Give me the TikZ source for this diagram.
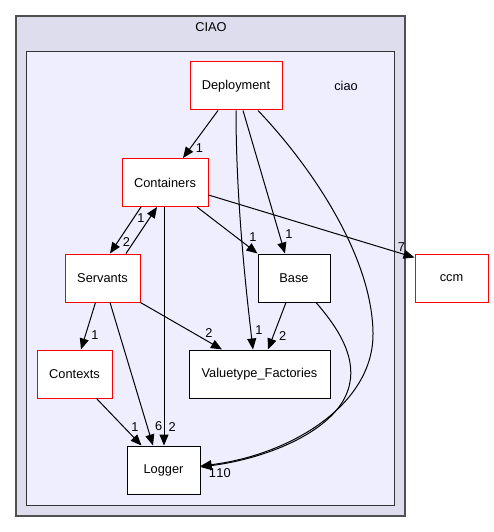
\documentclass[tikz,border=0pt]{standalone}
\usepackage{fontspec}
\setmainfont{Liberation Sans}
\usetikzlibrary{arrows.meta,calc}
\definecolor{outerfill}{HTML}{DDDDEE}
\definecolor{innerfill}{HTML}{EEEEFF}
\definecolor{outerline}{HTML}{505050}
\definecolor{innerline}{HTML}{333333}
\tikzset{
  dirbox/.style={draw=red, fill=white, line width=1pt, inner sep=0pt,
    minimum height=48pt, font=\fontsize{12.8}{14}\selectfont},
  leafbox/.style={dirbox, draw=black},
  edge/.style={draw=black, line width=1pt, -{Triangle[length=11pt,width=9pt]}},
  elabel/.style={font=\fontsize{12.8}{14}\selectfont, inner sep=0pt},
}
\begin{document}
\begin{tikzpicture}[x=1pt,y=-1pt]
\useasboundingbox (0,0) rectangle (493,532);
% clusters
\draw[fill=outerfill, draw=outerline, line width=1.4pt] (16,16) rectangle (405,516);
\node[elabel] (CIAOlbl) at (211,27) {CIAO};
\draw[fill=innerfill, draw=innerline, line width=1pt] (26.5,52) rectangle (394.5,505);
\node[elabel] (ciaolbl) at (346,86) {ciao};
% nodes
\node[dirbox, minimum width=92pt] (Deployment) at (236,86) {Deployment};
\node[dirbox, minimum width=86pt] (Containers) at (165,182.5) {Containers};
\node[dirbox, minimum width=75pt] (Servants) at (102.5,278) {Servants};
\node[leafbox, minimum width=72pt] (Base) at (294,278) {Base};
\node[dirbox, minimum width=73pt] (ccm) at (451.5,278) {ccm};
\node[dirbox, minimum width=75pt] (Contexts) at (74.5,374) {Contexts};
\node[leafbox, minimum width=141pt] (Valuetype) at (259.5,374) {Valuetype\_Factories};
\node[leafbox, minimum width=73pt] (Logger) at (163.5,470) {Logger};
% edges
\draw[edge] ($(Deployment.south)+(-18,0)$) -- ($(Containers.north)+(18,0)$);
\node[elabel] (l1) at (199.5,148) {1};
\draw[edge] ($(Deployment.south)+(0,0)$) .. controls (236,200) and (246,290) .. ($(Valuetype.north)+(-6.5,0)$);
\node[elabel] (l2) at (259,330) {1};
\draw[edge] ($(Deployment.south)+(7,0)$) -- ($(Base.north)+(-9,0)$);
\node[elabel] (l3) at (289,234) {1};
\draw[edge] ($(Deployment.south)+(22,0)$) .. controls (310,165) and (372,255) .. (373,333)
   .. controls (374,405) and (290,455) .. ($(Logger.east)+(0,-4)$);
\node[elabel] (l4) at (223.5,473) {10};
\draw[edge] ($(Containers.south)+(-24,0)$) -- ($(Servants.north)+(7.5,0)$);
\node[elabel] (l5) at (126.5,242) {2};
\draw[edge] ($(Servants.north)+(23.5,0)$) -- ($(Containers.south)+(-8,0)$);
\node[elabel] (l6) at (141,218) {1};
\draw[edge] ($(Containers.south)+(-1,0)$) -- ($(Logger.north)+(0.5,0)$);
\node[elabel] (l7) at (172.3,427.3) {2};
\draw[edge] ($(Containers.south)+(32,0)$) -- ($(Base.north west)+(0,0)$);
\node[elabel] (l8) at (253,237) {1};
\draw[edge] ($(Containers.east)+(0,12.5)$) -- ($(ccm.north west)+(0,4)$);
\node[elabel] (l9) at (401.5,247) {7};
\draw[edge] ($(Servants.south)+(-7,0)$) -- ($(Contexts.north)+(6.5,0)$);
\node[elabel] (l10) at (95,335) {1};
\draw[edge] ($(Servants.south)+(7.5,0)$) -- ($(Logger.north)+(-10.5,0)$);
\node[elabel] (l11) at (158.7,425.7) {6};
\draw[edge] ($(Servants.south east)+(0,0)$) -- ($(Valuetype.north)+(-37.5,0)$);
\node[elabel] (l12) at (209,332.7) {2};
\draw[edge] ($(Base.south)+(-8,0)$) -- ($(Valuetype.north)+(8.5,0)$);
\node[elabel] (l13) at (282.7,335.7) {2};
\draw[edge] ($(Base.south)+(22,0)$) .. controls (340,330) and (358,360) .. (348,390)
   .. controls (335,430) and (270,458) .. ($(Logger.east)+(0,-3)$);
\node[elabel] (l14) at (212.5,473) {1};
\draw[edge] ($(Contexts.south)+(22,0)$) -- ($(Logger.north)+(-22,0)$);
\node[elabel] (l15) at (135,426.7) {1};
\end{tikzpicture}
\end{document}
